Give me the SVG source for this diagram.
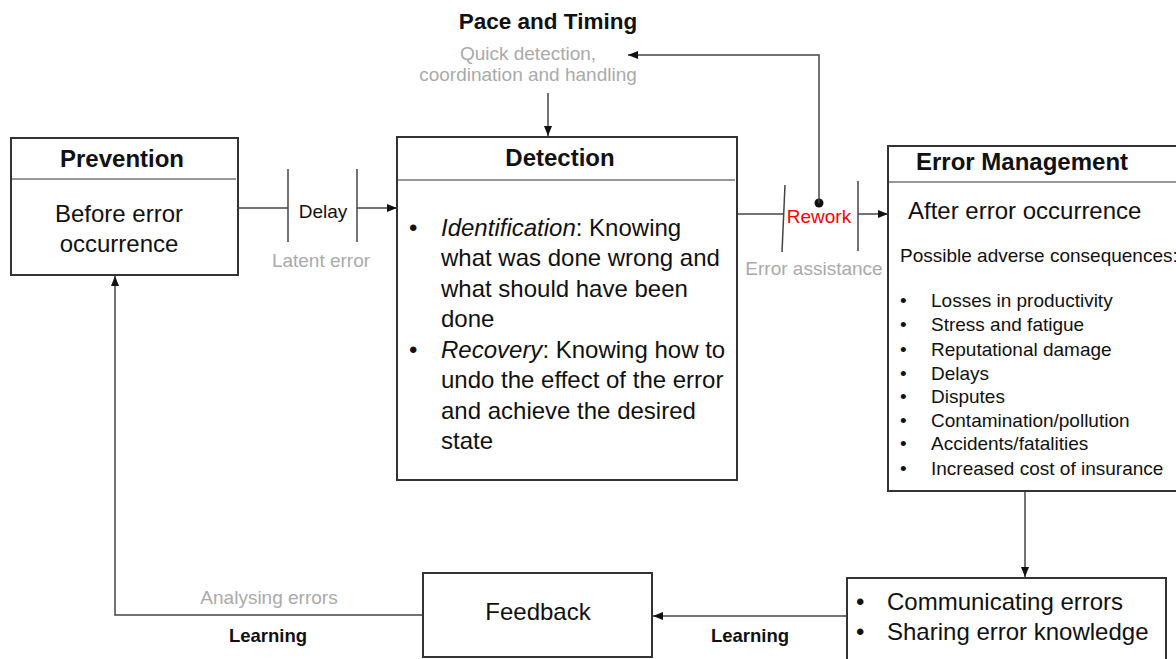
<svg xmlns="http://www.w3.org/2000/svg" width="1176" height="659" viewBox="0 0 1176 659">
  <defs>
    <marker id="arrow" viewBox="0 0 10 10" refX="10" refY="5" markerWidth="10" markerHeight="10" markerUnits="userSpaceOnUse" orient="auto">
      <path d="M0,1 L10,5 L0,9 Z" fill="#111"/>
    </marker>
    <style>
      text { font-family: "Liberation Sans", Arial, sans-serif; fill: #111; }
      .box { fill: #fff; stroke: #333; stroke-width: 2; }
      .div { stroke: #333; stroke-width: 1.2; }
      .title { font-size: 24px; font-weight: bold; }
      .big { font-size: 24px; }
      .mid { font-size: 19px; }
      .grey { font-size: 19px; fill: #aaa; }
      .lbl { font-size: 18.5px; font-weight: bold; }
      .wire { fill: none; stroke: #444; stroke-width: 1.5; }
      .bar { stroke: #444; stroke-width: 1.5; }
    </style>
  </defs>

  <rect width="1176" height="659" fill="#fff"/>

  <!-- connectors -->
  <g id="connectors">
    <!-- Prevention to Detection via delay -->
    <line class="wire" x1="238" y1="208" x2="288" y2="208"/>
    <line class="bar" x1="288" y1="169" x2="288" y2="242"/>
    <line class="bar" x1="357" y1="169" x2="357" y2="242"/>
    <line class="wire" x1="357" y1="208" x2="397" y2="208" marker-end="url(#arrow)"/>

    <!-- Detection to Error Management via rework -->
    <line class="wire" x1="737" y1="214" x2="783" y2="214"/>
    <line class="bar" x1="785" y1="185" x2="782" y2="252"/>
    <line class="bar" x1="858" y1="181" x2="858" y2="251"/>
    <line class="wire" x1="858" y1="214" x2="888" y2="214" marker-end="url(#arrow)"/>

    <!-- rework loop back to pace and timing -->
    <circle cx="819" cy="203" r="4.5" fill="#111"/>
    <polyline class="wire" points="819,203 819,55 628,55" marker-end="url(#arrow)"/>

    <!-- pace and timing into Detection -->
    <line class="wire" x1="548" y1="93" x2="548" y2="136" marker-end="url(#arrow)"/>

    <!-- Error Management down to communication -->
    <line class="wire" x1="1025" y1="491" x2="1025" y2="577" marker-end="url(#arrow)"/>

    <!-- communication to Feedback -->
    <line class="wire" x1="847" y1="616" x2="653" y2="616" marker-end="url(#arrow)"/>

    <!-- Feedback back to Prevention -->
    <polyline class="wire" points="423,615 115,615 115,276" marker-end="url(#arrow)"/>
  </g>

  <!-- connector labels -->
  <g id="labels">
    <text class="title" x="548" y="29" text-anchor="middle" style="font-size:22.5px">Pace and Timing</text>
    <text class="grey" x="528" y="60" text-anchor="middle">Quick detection,</text>
    <text class="grey" x="528" y="81" text-anchor="middle">coordination and handling</text>
    <text class="mid" x="323" y="218" text-anchor="middle">Delay</text>
    <text class="grey" x="321" y="267" text-anchor="middle">Latent error</text>
    <text class="mid" x="819" y="223" text-anchor="middle" style="fill:#f00">Rework</text>
    <text class="grey" x="814" y="275" text-anchor="middle">Error assistance</text>
    <text class="grey" x="269" y="604" text-anchor="middle">Analysing errors</text>
    <text class="lbl" x="268" y="642" text-anchor="middle">Learning</text>
    <text class="lbl" x="750" y="642" text-anchor="middle">Learning</text>
  </g>

  <!-- Prevention -->
  <g id="prevention">
    <rect class="box" x="11" y="138" width="227" height="137"/>
    <line class="div" x1="11" y1="179" x2="236" y2="179"/>
    <text class="title" x="122" y="167" text-anchor="middle">Prevention</text>
    <text class="big" x="119" y="222" text-anchor="middle">Before error</text>
    <text class="big" x="119" y="252" text-anchor="middle">occurrence</text>
  </g>

  <!-- Detection -->
  <g id="detection">
    <rect class="box" x="397" y="137" width="340" height="343"/>
    <line class="div" x1="397" y1="180" x2="735" y2="180"/>
    <text class="title" x="560" y="166" text-anchor="middle">Detection</text>
    <g class="big">
      <text x="409" y="236">•</text>
      <text x="441" y="236"><tspan font-style="italic">Identification</tspan>: Knowing</text>
      <text x="441" y="266">what was done wrong and</text>
      <text x="441" y="297">what should have been</text>
      <text x="441" y="327">done</text>
      <text x="409" y="358">•</text>
      <text x="441" y="358"><tspan font-style="italic">Recovery</tspan>: Knowing how to</text>
      <text x="441" y="388">undo the effect of the error</text>
      <text x="441" y="419">and achieve the desired</text>
      <text x="441" y="449">state</text>
    </g>
  </g>

  <!-- Error Management -->
  <g id="error-management">
    <rect class="box" x="888" y="146" width="300" height="345"/>
    <line class="div" x1="888" y1="182" x2="1176" y2="182"/>
    <text class="title" x="916" y="170">Error Management</text>
    <text class="big" x="908" y="219">After error occurrence</text>
    <text class="mid" x="900" y="262">Possible adverse consequences:</text>
    <g class="mid">
      <text x="900" y="307">•</text><text x="931" y="307">Losses in productivity</text>
      <text x="900" y="331">•</text><text x="931" y="331">Stress and fatigue</text>
      <text x="900" y="356">•</text><text x="931" y="356">Reputational damage</text>
      <text x="900" y="380">•</text><text x="931" y="380">Delays</text>
      <text x="900" y="403">•</text><text x="931" y="403">Disputes</text>
      <text x="900" y="427">•</text><text x="931" y="427">Contamination/pollution</text>
      <text x="900" y="450">•</text><text x="931" y="450">Accidents/fatalities</text>
      <text x="900" y="475">•</text><text x="931" y="475">Increased cost of insurance</text>
    </g>
  </g>

  <!-- Communication -->
  <g id="communication">
    <rect class="box" x="847" y="578" width="319" height="95"/>
    <text class="big" x="856" y="610">•</text>
    <text class="big" x="887" y="610">Communicating errors</text>
    <text class="big" x="856" y="640">•</text>
    <text class="big" x="887" y="640">Sharing error knowledge</text>
  </g>

  <!-- Feedback -->
  <g id="feedback">
    <rect class="box" x="423" y="573" width="229" height="84"/>
    <text class="big" x="538" y="620" text-anchor="middle">Feedback</text>
  </g>
</svg>
